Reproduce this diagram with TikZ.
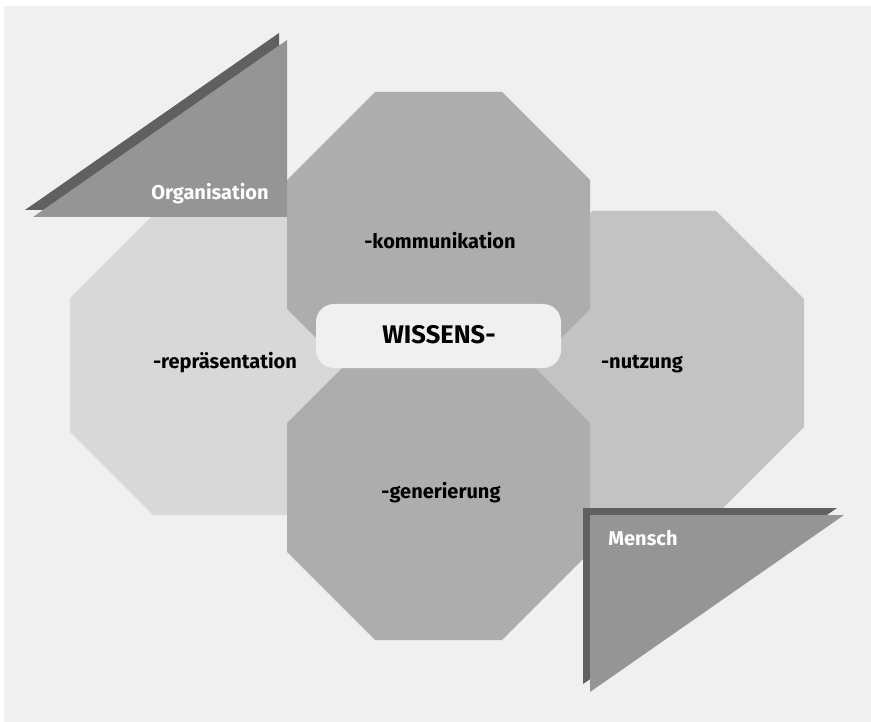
\documentclass[tikz,border=0pt]{standalone}
\usepackage{fontspec}
\setmainfont{Fira Sans}
\definecolor{bgout}{HTML}{FFFFFF}
\definecolor{bgin}{HTML}{F0F0F0}
\definecolor{octleft}{HTML}{D8D8D8}
\definecolor{octright}{HTML}{C3C3C3}
\definecolor{octmid}{HTML}{ADADAD}
\definecolor{trimain}{HTML}{959595}
\definecolor{trishadow}{HTML}{606060}
\tikzset{
  lbl/.style={font=\bfseries\fontsize{20}{24}\selectfont, text=black, anchor=base, inner sep=0pt},
  wlbl/.style={font=\bfseries\fontsize{20}{24}\selectfont, text=white, anchor=base, inner sep=0pt},
  octleftstyle/.style={fill=octleft},
  octrightstyle/.style={fill=octright},
  octmidstyle/.style={fill=octmid},
  trimainstyle/.style={fill=trimain},
  trishadowstyle/.style={fill=trishadow},
  keybox/.style={fill=bgin, rounded corners=18pt, minimum width=245pt, minimum height=64pt, inner sep=0pt},
  keytext/.style={font=\bfseries\fontsize{25.5}{30}\selectfont, text=black, anchor=base, inner sep=0pt}
}
\begin{document}
\begin{tikzpicture}[x=1pt,y=-1pt]
\useasboundingbox (0,0) rectangle (871,722);
\fill[bgout] (0,0) rectangle (871,722);
\fill[bgin] (4,6) rectangle (871,722);
% left and right octagons
\fill[octleftstyle] (153,215) -- (287,215) -- (370,298) -- (370,432) -- (287,515) -- (153,515) -- (70,432) -- (70,298) -- cycle;
\fill[octrightstyle] (592,211) -- (716,211) -- (804,299) -- (804,427) -- (716,515) -- (592,515) -- (504,427) -- (504,299) -- cycle;
% top and bottom octagons
\fill[octmidstyle] (375,92) -- (502,92) -- (590,180) -- (590,309) -- (502,397) -- (375,397) -- (287,309) -- (287,180) -- cycle;
\fill[octmidstyle] (375,335) -- (502,335) -- (590,423) -- (590,552) -- (502,640) -- (375,640) -- (287,552) -- (287,423) -- cycle;
% triangles
\fill[trishadowstyle] (25,210) -- (279,33) -- (279,210) -- cycle;
\fill[trimainstyle] (33,217) -- (287,40) -- (287,217) -- cycle;
\fill[trishadowstyle] (583,508) -- (837,508) -- (583,684) -- cycle;
\fill[trimainstyle] (590,515) -- (844,515) -- (590,692) -- cycle;
% centre box
\node[keybox] (wissens) at (438.5,336) {};
\node[keytext] (wissenstxt) at (439,344) {WISSENS-};
% labels
\node[lbl] (komm) at (440,249) {-kommunikation};
\node[lbl] (repr) at (225,368) {-repräsentation};
\node[lbl] (nutz) at (642,369) {-nutzung};
\node[lbl] (gene) at (441,498) {-generierung};
\node[wlbl] (orga) at (210,200) {Organisation};
\node[wlbl] (mens) at (643,545) {Mensch};
\end{tikzpicture}
\end{document}
